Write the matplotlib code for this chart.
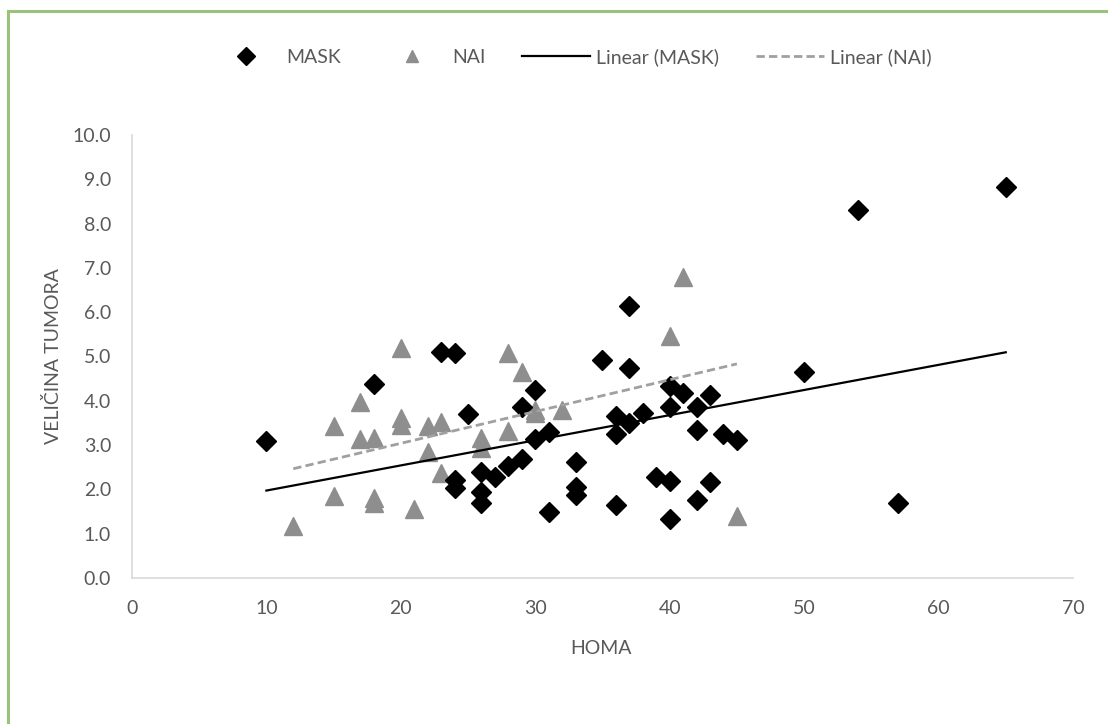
import numpy as np
import matplotlib
matplotlib.use("Agg")
import matplotlib.pyplot as plt
from matplotlib.patches import Rectangle

plt.rcParams['font.family'] = ['Lato', 'DejaVu Sans']

# MASK group (HOMA, tumour size)
mask_x = [10, 18, 23, 24, 24, 24, 25, 26, 26, 26, 27, 28, 29, 29, 30, 30, 31, 31,
          33, 33, 33, 35, 36, 36, 36, 37, 37, 37, 38, 39, 40, 40, 40, 40, 41, 42,
          42, 42, 43, 43, 44, 45, 50, 54, 57, 65]
mask_y = [3.1, 4.37, 5.1, 5.07, 2.21, 2.02, 3.7, 2.39, 1.94, 1.7, 2.28, 2.52, 2.69,
          3.86, 4.24, 3.13, 3.3, 1.48, 2.61, 2.05, 1.88, 4.93, 3.66, 3.25, 1.65,
          6.13, 4.73, 3.5, 3.73, 2.28, 4.34, 3.86, 2.18, 1.34, 4.18, 3.87, 3.35,
          1.77, 4.14, 2.17, 3.26, 3.12, 4.65, 8.3, 1.7, 8.83]

# NAI group
nai_x = [12, 15, 15, 17, 17, 18, 18, 18, 20, 20, 20, 21, 22, 22, 23, 23, 26, 26,
         28, 28, 29, 30, 30, 32, 40, 41, 45]
nai_y = [1.18, 3.43, 1.84, 3.98, 3.13, 3.17, 1.8, 1.7, 5.2, 3.62, 3.45, 1.56, 3.42,
         2.85, 3.53, 2.38, 3.17, 2.94, 5.09, 3.32, 4.66, 3.8, 3.73, 3.8, 5.47,
         6.79, 1.39]

x_ticks = [0, 10, 20, 30, 40, 50, 60, 70]
y_ticks = [0, 1, 2, 3, 4, 5, 6, 7, 8, 9, 10]

fig = plt.figure(figsize=(11.08, 7.24), dpi=100)
ax = fig.add_axes([0.1191, 0.2017, 0.8493, 0.6118])

grey_txt = '#595959'

ax.plot(mask_x, mask_y, 'D', color='black', markersize=10.5, linestyle='none',
        label='MASK', zorder=3)
ax.plot(nai_x, nai_y, '^', color='#8E8E8E', markersize=13, linestyle='none',
        label='NAI', zorder=2)

# linear trend lines
mx = np.array(mask_x, dtype=float)
nx = np.array(nai_x, dtype=float)
pm = np.polyfit(mx, mask_y, 1)
pn = np.polyfit(nx, nai_y, 1)
xm = np.array([mx.min(), mx.max()])
xn = np.array([nx.min(), nx.max()])
ax.plot(xm, np.polyval(pm, xm), color='black', lw=1.6, label='Linear (MASK)', zorder=4)
ax.plot(xn, np.polyval(pn, xn), color='#A0A0A0', lw=2.0, ls=(0, (3, 1.5)),
        label='Linear (NAI)', zorder=4)

ax.set_xlim(0, 70)
ax.set_ylim(0, 10)
ax.set_xticks(x_ticks)
ax.set_yticks(y_ticks)
ax.set_yticklabels([f'{v:.1f}' for v in y_ticks])
ax.tick_params(length=0, labelsize=14, colors=grey_txt)
ax.tick_params(axis='x', pad=16)
ax.tick_params(axis='y', pad=15)

for s in ['top', 'right']:
    ax.spines[s].set_visible(False)
for s in ['left', 'bottom']:
    ax.spines[s].set_color('#D9D9D9')
    ax.spines[s].set_linewidth(1.2)

ax.set_xlabel('HOMA', fontsize=14, color=grey_txt)
ax.set_ylabel('VELIČINA TUMORA', fontsize=14, color=grey_txt)
ax.xaxis.set_label_coords(0.498, -0.14)
ax.yaxis.set_label_coords(-0.074, 0.5)

leg = fig.legend(loc='center', bbox_to_anchor=(572 / 1108, 1 - 57 / 724), ncol=4,
                 frameon=False, fontsize=14, handlelength=3.5, handletextpad=0.3,
                 columnspacing=1.9, labelcolor=grey_txt)
for h in leg.legend_handles[:2]:
    h.set_markersize(9)

# green chart border (only top/left visible in the crop)
fig.patches.append(Rectangle((8 / 1108, -0.1), 1.2, 1 - 11 / 724 + 0.1,
                             transform=fig.transFigure, fill=False,
                             edgecolor='#9BC27A', lw=2.2))

fig.savefig('out.png', dpi=100)
